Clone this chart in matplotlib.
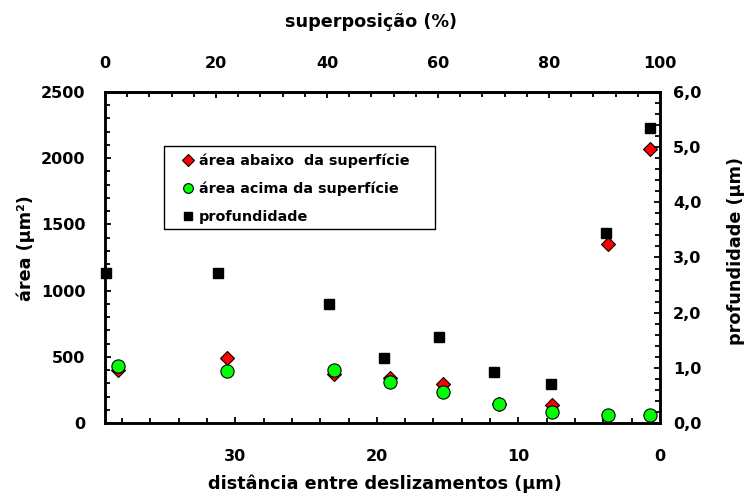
import matplotlib
matplotlib.use('Agg')
import matplotlib.pyplot as plt
from matplotlib.lines import Line2D
from matplotlib.patches import Rectangle
from matplotlib.ticker import MultipleLocator, FixedLocator, FuncFormatter

plt.rcParams['font.family'] = ['DejaVu Sans']
plt.rcParams['font.weight'] = 'bold'

# distance between slides (um) for the area series and for the depth series
dist_area = [38.3, 30.6, 23.0, 19.1, 15.3, 11.4, 7.6, 3.7, 0.7]
dist_prof = [39.1, 31.2, 23.4, 19.5, 15.6, 11.7, 7.7, 3.8, 0.7]

# areas (um^2) below and above the surface
area_abaixo = [400, 489, 370, 340, 291, 140, 136, 1355, 2067]
area_acima = [430, 393, 400, 310, 236, 146, 85, 58, 58]

# depth (um)
profundidade = [2.71, 2.71, 2.16, 1.18, 1.56, 0.92, 0.70, 3.45, 5.34]

# overlap ticks (%)
overlap_ticks = [0, 20, 40, 60, 80, 100]

d_max = 39.2  # distance that corresponds to 0 % overlap
fs = 11.5     # tick labels
fl = 12.7     # axis titles

fig = plt.figure(figsize=(7.51, 4.97), dpi=100)
ax = fig.add_axes([0.1398, 0.1489, 0.7390, 0.6660])

ax.plot(dist_area, area_abaixo, linestyle='none', marker='D', markersize=7,
        markerfacecolor='#ff0000', markeredgecolor='black', markeredgewidth=0.8,
        zorder=3, clip_on=False)
ax.plot(dist_area, area_acima, linestyle='none', marker='o', markersize=9.5,
        markerfacecolor='#00ff00', markeredgecolor='black', markeredgewidth=0.8,
        zorder=4, clip_on=False)

ax.set_xlim(d_max, 0)
ax.set_ylim(0, 2500)
ax.xaxis.set_major_locator(MultipleLocator(10))
ax.xaxis.set_minor_locator(MultipleLocator(2))
ax.yaxis.set_major_locator(MultipleLocator(500))
ax.yaxis.set_minor_locator(MultipleLocator(100))

for s in ax.spines.values():
    s.set_linewidth(1.8)

ax.tick_params(axis='both', which='both', direction='in', width=1.3,
               labelsize=fs, top=False, right=False)
ax.tick_params(which='major', length=4)
ax.tick_params(which='minor', length=3.5)
ax.tick_params(axis='x', pad=19)
ax.tick_params(axis='y', pad=14)

ax.set_xlabel('distância entre deslizamentos (µm)', fontsize=fl, fontweight='bold')
ax.xaxis.set_label_coords(0.505, -0.155)
ax.set_ylabel('área (µm²)', fontsize=fl, fontweight='bold')
ax.yaxis.set_label_coords(-0.126, 0.529)

# depth on the right-hand axis
ax2 = ax.twinx()
ax2.plot(dist_prof, profundidade, linestyle='none', marker='s', markersize=7,
         markerfacecolor='black', markeredgecolor='black', clip_on=False)
ax2.set_ylim(0, 6)
ax2.yaxis.set_major_locator(MultipleLocator(1))
ax2.yaxis.set_minor_locator(MultipleLocator(0.2))
ax2.yaxis.set_major_formatter(FuncFormatter(lambda v, p: f'{v:.1f}'.replace('.', ',')))
ax2.tick_params(axis='y', which='both', direction='in', width=1.3, labelsize=fs, pad=9.5)
ax2.tick_params(which='major', length=4)
ax2.tick_params(which='minor', length=3.5)
for s in ax2.spines.values():
    s.set_linewidth(1.8)
ax2.set_ylabel('profundidade (µm)', fontsize=fl, fontweight='bold')
ax2.yaxis.set_label_coords(1.1207, 0.52)

# overlap percentage on the top axis
top = ax.secondary_xaxis('top', functions=(lambda d: 100 * (1 - d / d_max),
                                           lambda s: d_max * (1 - s / 100)))
top.set_xticks(overlap_ticks)
top.xaxis.set_minor_locator(FixedLocator([v for v in range(0, 101, 4) if v % 20]))
top.tick_params(axis='x', which='both', direction='in', width=1.3, labelsize=fs, pad=15)
top.tick_params(which='major', length=4)
top.tick_params(which='minor', length=3.5)
top.spines['top'].set_linewidth(1.8)
fig.text(371 / 751, 1 - 27 / 497, 'superposição (%)', ha='center', va='baseline',
         fontsize=fl, fontweight='bold')

# legend: plain rectangular box with the entries inside
box = Rectangle((0.106, 0.586), 0.489, 0.251, transform=ax2.transAxes,
                facecolor='white', edgecolor='black', linewidth=1.0, zorder=5)
ax2.add_patch(box)
handles = [
    Line2D([], [], linestyle='none', marker='D', markersize=6, markerfacecolor='#ff0000',
           markeredgecolor='black', markeredgewidth=0.8),
    Line2D([], [], linestyle='none', marker='o', markersize=7, markerfacecolor='#00ff00',
           markeredgecolor='black', markeredgewidth=0.8),
    Line2D([], [], linestyle='none', marker='s', markersize=6, markerfacecolor='black',
           markeredgecolor='black'),
]
labels = ['área abaixo  da superfície', 'área acima da superfície', 'profundidade']
leg = ax2.legend(handles, labels, loc='upper left', bbox_to_anchor=(0.1393, 0.813),
                 borderaxespad=0, borderpad=0, frameon=False,
                 prop={'size': 10.4, 'weight': 'bold'},
                 handlelength=0.8, handletextpad=0.35, labelspacing=0.94)
leg.set_zorder(6)

fig.savefig('out.png', dpi=100)
